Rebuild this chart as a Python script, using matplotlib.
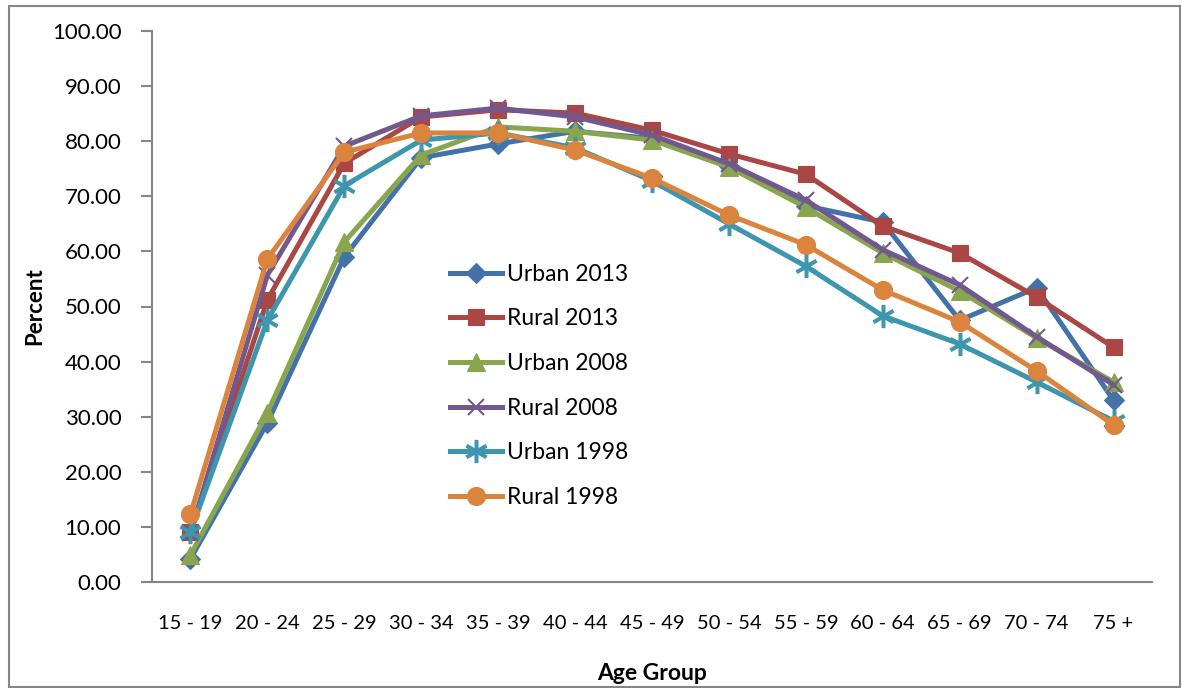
import matplotlib
matplotlib.use("Agg")
import matplotlib.pyplot as plt
from matplotlib.patches import Rectangle

plt.rcParams['font.family'] = ['Lato', 'DejaVu Sans']

age_groups = ['15 - 19', '20 - 24', '25 - 29', '30 - 34', '35 - 39', '40 - 44', '45 - 49',
              '50 - 54', '55 - 59', '60 - 64', '65 - 69', '70 - 74', '75 +']

urban_2013 = [4.2, 28.9, 59.0, 77.0, 79.5, 81.8, 80.5, 75.5, 68.3, 65.3, 47.5, 53.4, 33.0]
rural_2013 = [9.0, 51.2, 76.0, 84.4, 85.7, 85.1, 82.0, 77.7, 74.0, 64.6, 59.7, 51.7, 42.6]
urban_2008 = [4.9, 30.7, 61.7, 77.5, 82.6, 81.8, 80.2, 75.3, 68.0, 59.7, 52.8, 44.3, 36.3]
rural_2008 = [8.9, 55.7, 79.1, 84.6, 86.0, 84.4, 81.1, 75.9, 69.3, 60.3, 53.9, 44.5, 35.8]
urban_1998 = [9.1, 47.5, 71.9, 80.2, 81.5, 78.8, 72.8, 65.0, 57.3, 48.3, 43.2, 36.3, 29.2]
rural_1998 = [12.3, 58.6, 78.0, 81.5, 81.5, 78.4, 73.3, 66.6, 61.2, 53.0, 47.2, 38.3, 28.5]

# name, values, colour, marker, marker size
series = [
    ('Urban 2013', urban_2013, '#4472A8', 'D', 10),
    ('Rural 2013', rural_2013, '#AA4643', 's', 12),
    ('Urban 2008', urban_2008, '#89A54E', '^', 13),
    ('Rural 2008', rural_2008, '#71588F', 'x', 11),
    ('Urban 1998', urban_1998, '#3D96AE', '$\u2217$', 16),
    ('Rural 1998', rural_1998, '#DB843D', 'o', 13),
]

fig = plt.figure(figsize=(11.82, 6.88), dpi=100)
ax = fig.add_axes([152 / 1182, 1 - 582 / 688, 1000 / 1182, 551 / 688])

x = list(range(len(age_groups)))
for name, vals, color, marker, ms in series:
    mew = 1.5 if marker == 'x' else 0.8
    ax.plot(x, vals, color=color, lw=3.6, marker=marker, ms=ms, mew=mew, label=name)

ax.set_xlim(-0.5, len(age_groups) - 0.5)
ax.set_ylim(0, 100)
ax.set_yticks(range(0, 101, 10))
ax.set_yticklabels(['%.2f' % v for v in range(0, 101, 10)])
ax.set_xticks(x)
ax.set_xticklabels(age_groups)

for s in ['top', 'right']:
    ax.spines[s].set_visible(False)
for s in ['left', 'bottom']:
    ax.spines[s].set_color('#868686')
    ax.spines[s].set_linewidth(1.5)
ax.tick_params(axis='y', length=8, width=1.5, color='#868686', labelsize=16, pad=14)
ax.tick_params(axis='x', length=0, labelsize=14.5, pad=24)

ax.set_ylabel('Percent', fontsize=16, fontweight='bold', labelpad=5)
ax.set_xlabel('Age Group', fontsize=16.5, fontweight='bold', labelpad=22)

ax.legend(loc='upper left', bbox_to_anchor=(0.277, 0.615), frameon=False, fontsize=16.5,
          labelspacing=1.03, handlelength=2.3, handletextpad=0.2)

fig.patches.append(Rectangle((9 / 1182, 1 / 688), 1171 / 1182, 681 / 688, transform=fig.transFigure,
                             fill=False, edgecolor='#868686', lw=1.5))

fig.savefig('out.png', dpi=100)
